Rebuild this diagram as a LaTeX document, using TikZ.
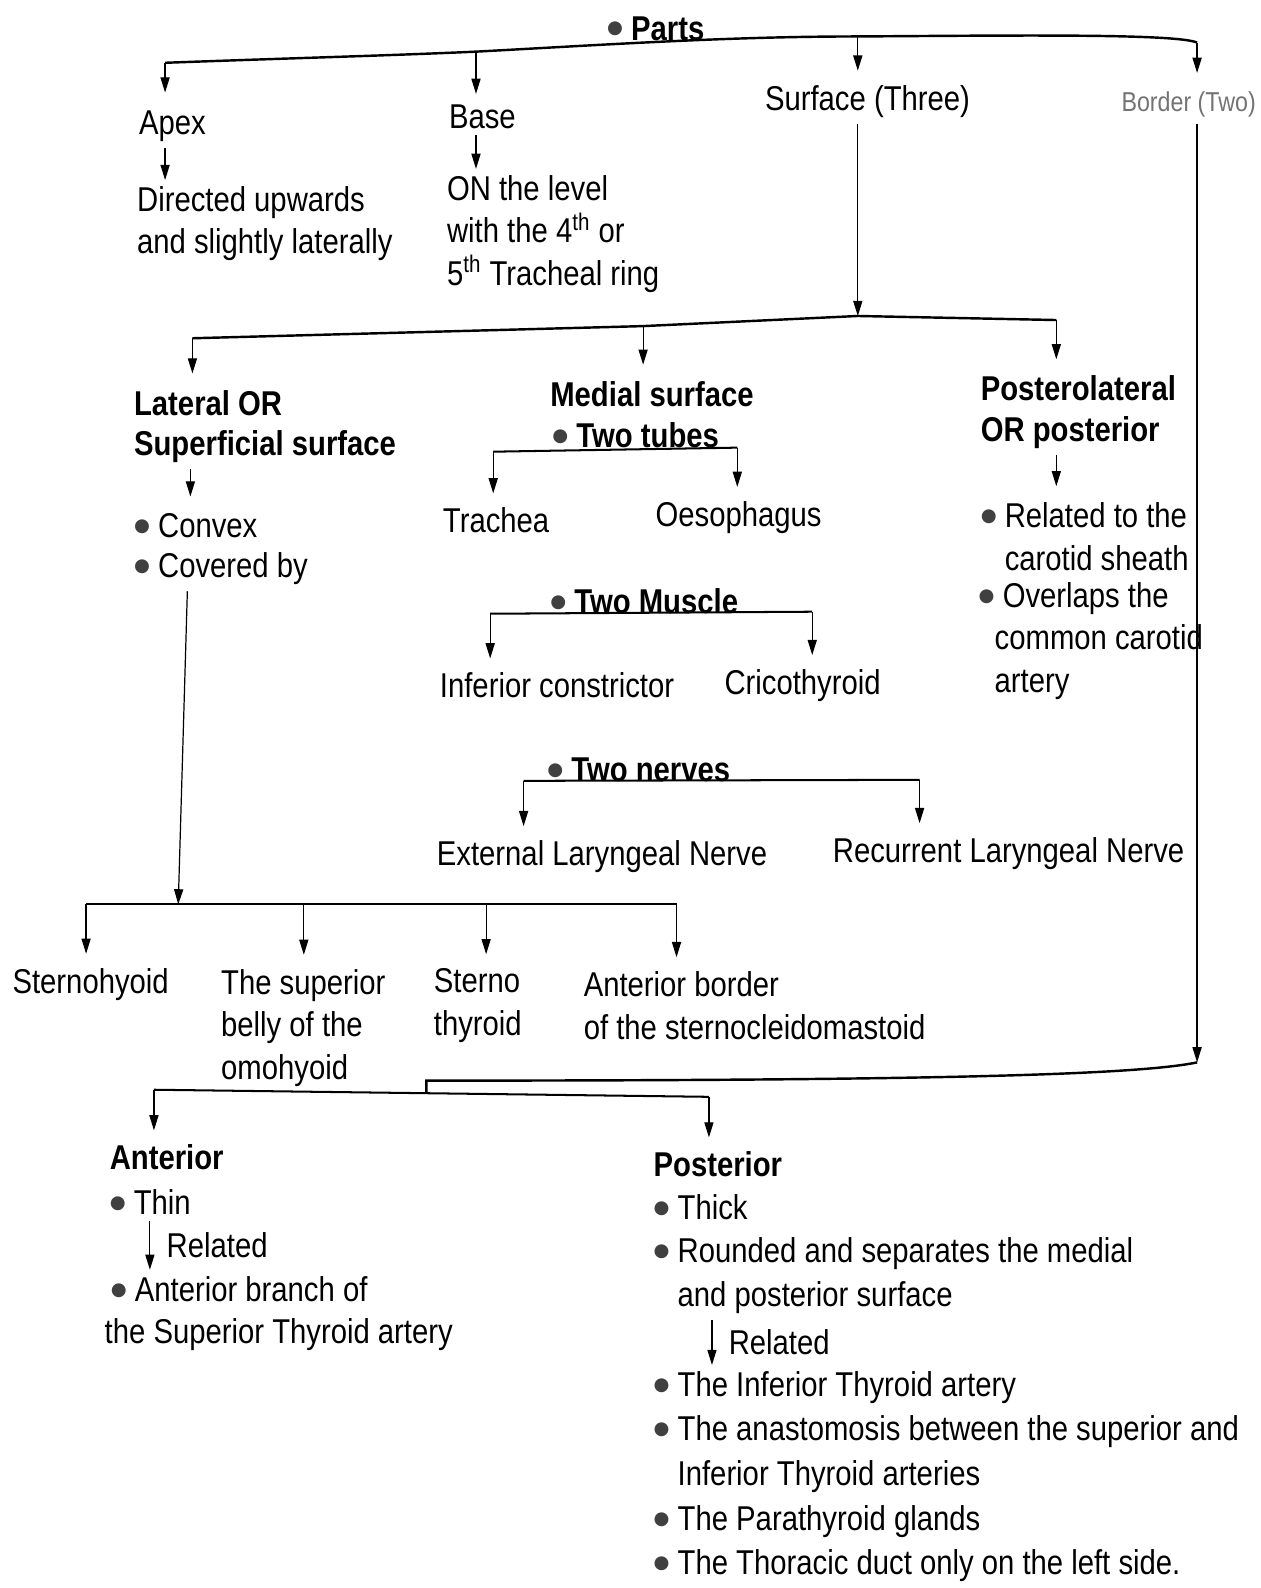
\documentclass[tikz,border=0pt]{standalone}
\usepackage{fontspec}
\setmainfont{Liberation Sans}[FakeStretch=0.85]
\newfontfamily\bulfont{DejaVu Sans}
\usetikzlibrary{arrows.meta}
\newcommand{\bul}{{\color{black!75}\raisebox{3pt}{\bulfont\fontsize{9}{0}\selectfont ●}}\ }

\begin{document}
\begin{tikzpicture}[x=0.5pt,y=-0.5pt,
    txt/.style={anchor=west,align=left,inner xsep=0pt,inner ysep=3pt,
                font=\fontsize{17}{21}\selectfont},
    hd/.style={txt,font=\fontsize{17}{20}\selectfont\bfseries},
    ar/.style={-{Triangle[width=4.5pt,length=7.5pt]},line width=0.6pt},
    br/.style={line width=1pt}]
  \useasboundingbox (0,0) rectangle (1245,1568);
  % Parts, first row
  \node[hd] (parts) at (599,28) {\bul Parts};
  \coordinate (jApex) at (163,62);
  \coordinate (jBase) at (470,51);
  \coordinate (jSurf) at (847,36);
  \coordinate (jBord) at (1182,42);
  \draw[line width=1.2pt] (jApex) .. controls (300,57) and (380,55) .. (jBase)
    .. controls (600,44) and (720,36) .. (jSurf)
    .. controls (1000,35) and (1160,33) .. (jBord);
  \node[txt] (apex) at (137,125) {Apex};
  \node[txt] (apexd) at (135,221) {Directed upwards\\and slightly laterally};
  \node[txt] (base) at (443,115) {Base};
  \node[txt] (based) at (441,231) {ON the level\\with the 4\textsuperscript{th} or\\5\textsuperscript{th} Tracheal ring};
  \node[txt] (surf) at (755,100) {Surface (Three)};
  \node[txt,font=\fontsize{13.5}{16}\selectfont,text=black!55] (bord) at (1107,103) {Border (Two)};
  \draw[ar] (jApex) -- ([yshift=6pt]jApex |- apex.north);
  \draw[ar] (apex.south -| jApex) -- (apexd.north -| jApex);
  \draw[ar] (jBase) -- ([yshift=2pt]jBase |- base.north);
  \draw[ar] (base.south -| jBase) -- (based.north -| jBase);
  \draw[ar] (jSurf) -- ([yshift=4pt]jSurf |- surf.north);
  \draw[ar] (jBord) -- ([yshift=6pt]jBord |- bord.north);
  % the three surfaces
  \coordinate (sL) at (190,334);
  \coordinate (sM) at (635,322);
  \coordinate (sS) at (847,312);
  \coordinate (sR) at (1043,316);
  \draw[ar] (surf.south -| jSurf) -- (sS);
  \draw[line width=1.2pt] (sL) -- (sM) -- (sS) -- (sR);
  \node[hd] (lat) at (132,421) {Lateral OR\\Superficial surface};
  \node[hd] (med) at (543,389) {Medial surface};
  \node[hd] (post) at (968,407) {Posterolateral\\OR posterior};
  \draw[ar] (sL) -- ([yshift=5pt]sL |- lat.north);
  \draw[ar] (sM) -- ([yshift=5pt]sM |- med.north);
  \draw[ar] (sR) -- ([yshift=5pt]sR |- post.north);
  % lateral surface
  \coordinate (xLat) at (188,0);
  \coordinate (xCov) at (185,0);
  \node[txt,font=\fontsize{17}{20}\selectfont] (conv) at (132,542) {\bul Convex\\\bul Covered by};
  \draw[ar] (lat.south -| xLat) -- ([yshift=5pt]conv.north -| xLat);
  \coordinate (mJ) at (176,893);
  \coordinate (mA) at (85,893);
  \coordinate (mB) at (300,893);
  \coordinate (mC) at (480,893);
  \coordinate (mD) at (668,893);
  \draw[ar] (conv.south -| xCov) -- (mJ);
  \draw[br] (mA) -- (mD);
  \node[txt] (stern) at (12,972) {Sternohyoid};
  \node[txt] (supb) at (218,1015) {The superior\\belly of the\\omohyoid};
  \node[txt] (sthy) at (428,993) {Sterno\\thyroid};
  \node[txt] (scm) at (576,993) {Anterior border\\of the sternocleidomastoid};
  \draw[ar] (mA) -- ([yshift=4pt]mA |- stern.north);
  \draw[ar] (mB) -- ([yshift=4pt]mB |- supb.north);
  \draw[ar] (mC) -- ([yshift=4pt]mC |- sthy.north);
  \draw[ar] (mD) -- ([yshift=4pt]mD |- scm.north);
  % medial surface
  \node[hd] (tubes) at (545,430) {\bul Two tubes};
  \coordinate (tL) at (487,446);
  \coordinate (tR) at (728,442);
  \draw[br] (tL) -- (tR);
  \node[txt] (trach) at (437,514) {Trachea};
  \node[txt] (oeso) at (647,511) {Oesophagus};
  \draw[ar] (tL) -- ([yshift=4pt]tL |- trach.north);
  \draw[ar] (tR) -- ([yshift=4pt]tR |- oeso.north);
  \node[hd] (musc) at (543,594) {\bul Two Muscle};
  \coordinate (uL) at (484,606);
  \coordinate (uR) at (802,604);
  \draw[br] (uL) -- (uR);
  \node[txt] (infc) at (434,677) {Inferior constrictor};
  \node[txt] (crico) at (715,677) {Cricothyroid};
  \draw[ar] (uL) -- ([yshift=4pt]uL |- infc.north);
  \draw[ar] (uR) -- ([yshift=4pt]uR |- crico.north);
  \node[hd] (nerv) at (540,760) {\bul Two nerves};
  \coordinate (nL) at (517,771);
  \coordinate (nR) at (908,770);
  \draw[br] (nL) -- (nR);
  \node[txt] (ext) at (431,846) {External Laryngeal Nerve};
  \node[txt] (rec) at (822,843) {Recurrent Laryngeal Nerve};
  \draw[ar] (nL) -- ([yshift=4pt]nL |- ext.north);
  \draw[ar] (nR) -- ([yshift=4pt]nR |- rec.north);
  % posterolateral surface
  \node[txt] (rel) at (968,530) {\bul Related to the\\\hphantom{\bul}carotid sheath};
  \node[txt] (ovl) at (966,633) {\bul Overlaps the\\\hphantom{\textbullet}\,common carotid\\\hphantom{\textbullet}\,artery};
  \draw[ar] (post.south -| sR) -- ([yshift=5pt]rel.north -| sR);
  % the two borders
  \coordinate (bB) at (1182,1049);
  \coordinate (bS) at (421,1067);
  \coordinate (bJ) at (421,1079);
  \coordinate (aL) at (152,1076);
  \coordinate (aR) at (700,1083);
  \draw[ar] (bord.south -| jBord) -- (bB);
  \draw[line width=1.2pt] (bB) .. controls (1120,1062) and (900,1067) .. (bS) -- (bJ);
  \draw[br] (aL) -- (aR);
  \node[hd] (ant) at (108,1143) {Anterior};
  \node[txt] (thin) at (108,1187) {\bul Thin};
  \node[txt] (antbr) at (103,1297) {\hspace*{3pt}\bul Anterior branch of\\the Superior Thyroid artery};
  \draw[ar] (aL) -- ([yshift=4pt]aL |- ant.north);
  \coordinate (xThin) at (148,0);
  \draw[ar] (thin.south -| xThin) -- node[txt,right=8pt] {Related} (antbr.north -| xThin);
  \node[hd] (postr) at (645,1150) {Posterior};
  \node[txt,font=\fontsize{17}{21.5}\selectfont] (thick) at (645,1238) {\bul Thick\\\bul Rounded and separates the medial\\\hphantom{\bul}and posterior surface};
  \node[txt,font=\fontsize{17}{22}\selectfont] (rlist) at (645,1458) {\bul The Inferior Thyroid artery\\
    \bul The anastomosis between the superior and\\
    \hphantom{\bul}Inferior Thyroid arteries\\
    \bul The Parathyroid glands\\
    \bul The Thoracic duct only on the left side.};
  \draw[ar] (aR) -- ([yshift=4pt]aR |- postr.north);
  \coordinate (xRnd) at (703,0);
  \draw[ar] (thick.south -| xRnd) -- node[txt,right=8pt] {Related} (rlist.north -| xRnd);
\end{tikzpicture}
\end{document}
